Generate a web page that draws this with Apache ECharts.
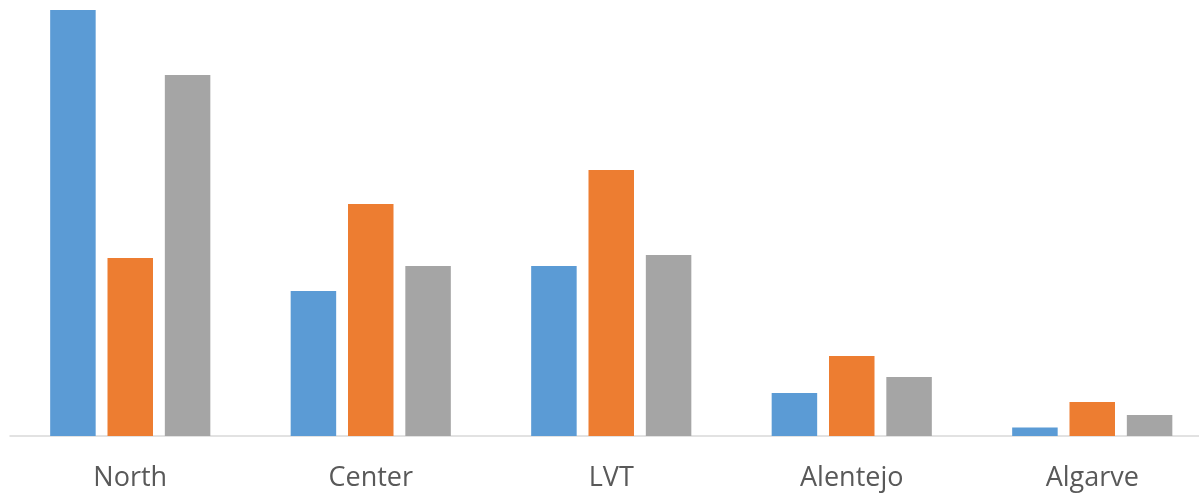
<!DOCTYPE html>
<html><head><meta charset="utf-8">
<script src="https://cdn.jsdelivr.net/npm/echarts@6/dist/echarts.min.js"></script>
<style>html,body{margin:0;padding:0;background:#fff;overflow:hidden}#c{width:1213px;height:495px}</style>
</head><body><div id="c"></div>
<script>
const categories = ['North', 'Center', 'LVT', 'Alentejo', 'Algarve'];
const series1 = [426, 145, 170, 43, 8.5];
const series2 = [178, 232, 266, 80, 34];
const series3 = [361, 170, 181, 59, 21];
const colors = ['#5B9BD5', '#ED7D31', '#A5A5A5'];

const chart = echarts.init(document.getElementById('c'), null, {renderer: 'canvas'});
const mk = (name, data, i) => ({
  name, type: 'bar', data, barWidth: 45.5, barGap: '26%',
  itemStyle: {color: colors[i]}, animation: false
});
chart.setOption({
  animation: false,
  grid: {left: 10, right: 0.5, top: 10, bottom: 59, containLabel: false},
  xAxis: {
    type: 'category', data: categories,
    axisLine: {show: true, lineStyle: {color: '#D9D9D9', width: 1.5}},
    axisTick: {show: false},
    axisLabel: {color: '#595959', fontFamily: 'Open Sans', fontSize: 27, margin: 29}
  },
  yAxis: {type: 'value', min: 0, max: 426, show: false, splitLine: {show: false}},
  series: [mk('S1', series1, 0), mk('S2', series2, 1), mk('S3', series3, 2)]
});
</script></body></html>
